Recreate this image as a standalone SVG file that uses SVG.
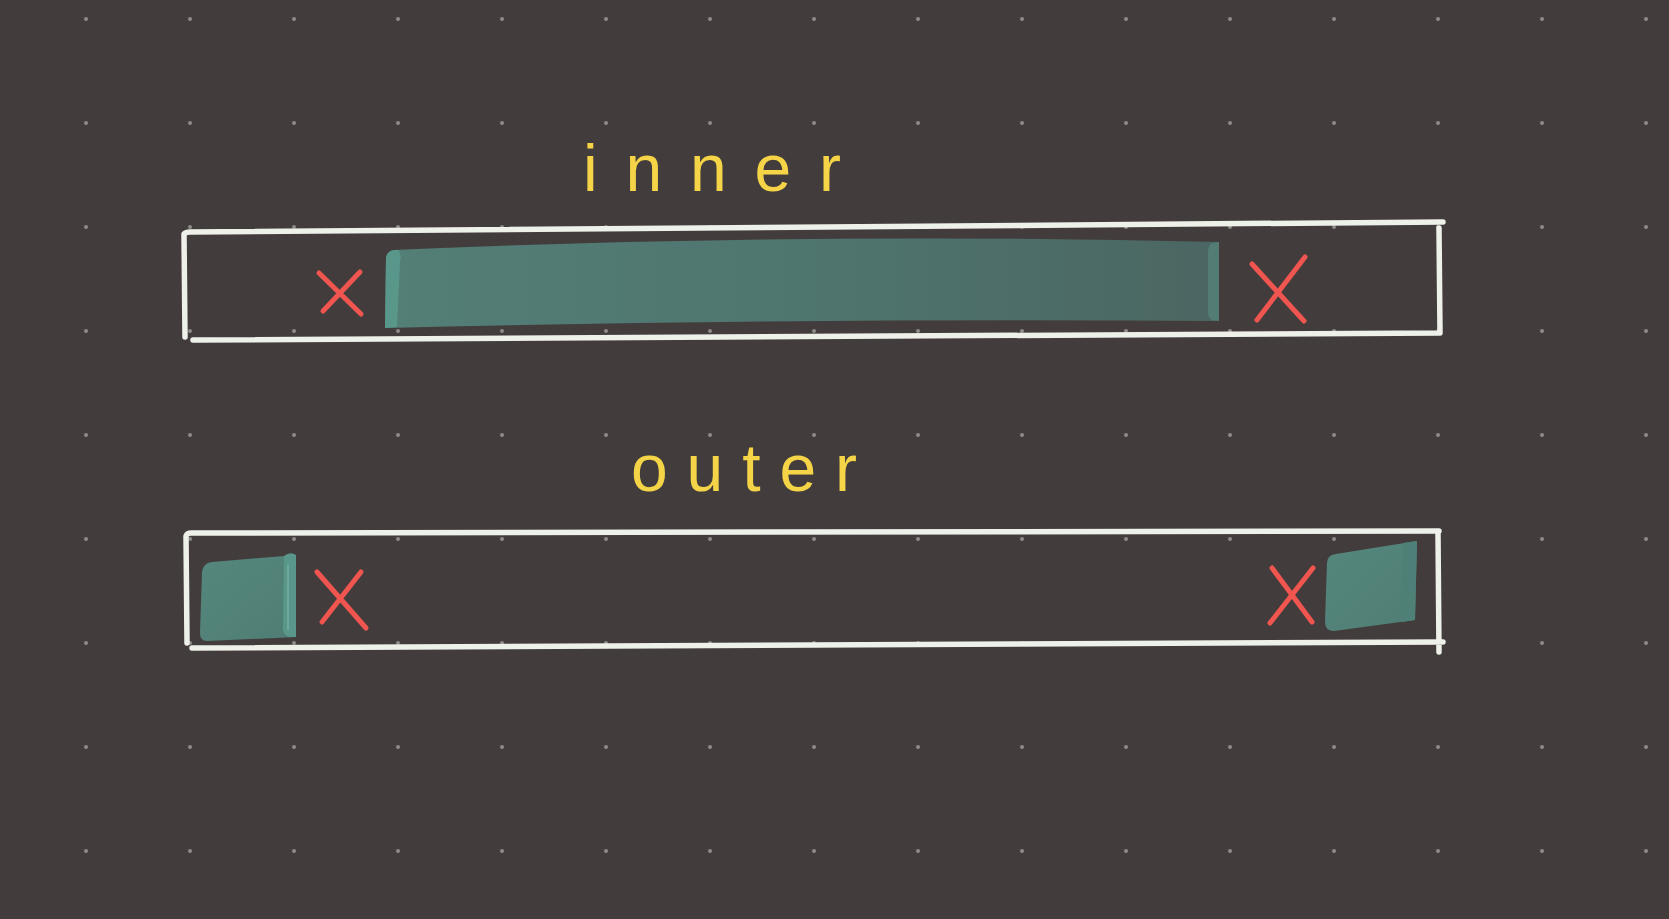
<svg xmlns="http://www.w3.org/2000/svg" width="1669" height="919" viewBox="0 0 1669 919">
  <defs>
    <pattern id="dots" patternUnits="userSpaceOnUse" width="104" height="104">
      <circle cx="86" cy="19" r="2" fill="#8e8a88"/>
    </pattern>
    <linearGradient id="tealInner" x1="385" y1="0" x2="1219" y2="0" gradientUnits="userSpaceOnUse">
      <stop offset="0" stop-color="#537f77"/>
      <stop offset="0.5" stop-color="#4f756f"/>
      <stop offset="1" stop-color="#4b6662"/>
    </linearGradient>
    <linearGradient id="tealOuter" x1="0" y1="0" x2="1" y2="1">
      <stop offset="0" stop-color="#55877d"/>
      <stop offset="1" stop-color="#4f7d74"/>
    </linearGradient>
    <style>
      .frame { fill: none; stroke: #eef0ea; stroke-width: 5.5; stroke-linecap: round; stroke-linejoin: round; }
      .cross { fill: none; stroke: #f0554f; stroke-width: 5; stroke-linecap: round; }
      .label { font-family: "Liberation Sans", "DejaVu Sans", sans-serif; fill: #f5d547; font-size: 66px; }
      .curl-light { fill: #5a978b; }
    </style>
  </defs>

  <rect width="1669" height="919" fill="#423d3c"/>
  <rect width="1669" height="919" fill="url(#dots)"/>

  <g id="inner-label">
    <text class="label" x="583" y="191" textLength="258" lengthAdjust="spacing">inner</text>
  </g>

  <g id="inner-box">
    <path class="frame" d="M185,337 L184,234 Q186,232 190,232 L1443,222"/>
    <path class="frame" d="M1439,228 L1440,333 L193,340"/>
    <path d="M394,250 Q800,232 1219,242 L1219,321 Q800,318 385,328 L386,258 Q387,251 394,250 Z" fill="url(#tealInner)"/>
    <path class="curl-light" d="M394,250 L398,250 Q402,255 400,262 L397,327 L385,328 L386,258 Q387,251 394,250 Z"/>
    <path d="M1212,243 L1219,242 L1219,321 L1212,320 Q1208,318 1208,312 L1208,252 Q1208,245 1212,243 Z" fill="#527c74"/>
    <path class="cross" d="M319,273 L361,314 M360,272 L323,311"/>
    <path class="cross" d="M1252,264 L1304,321 M1305,257 L1257,320"/>
  </g>

  <g id="outer-label">
    <text class="label" x="631" y="491" textLength="226" lengthAdjust="spacing">outer</text>
  </g>

  <g id="outer-box">
    <path class="frame" d="M187,643 L186,536 Q187,533 191,533 L1439,531"/>
    <path class="frame" d="M1438,533 L1439,652 M1443,642 L192,648"/>
    <path d="M212,562 L296,555 L296,637 L207,641 Q200,641 200,633 L202,572 Q203,563 212,562 Z" fill="url(#tealOuter)"/>
    <path class="curl-light" d="M284,556 Q290,551 296,555 L296,637 L290,637 Q283,636 283,628 Z"/>
    <path d="M288,565 L288,630" stroke="#7fb3a8" stroke-width="1.2" fill="none"/>
    <path d="M1336,554 L1417,541 L1415,620 L1334,631 Q1325,631 1325,622 L1327,563 Q1327,555 1336,554 Z" fill="url(#tealOuter)"/>
    <path d="M1403,543 L1417,541 L1415,620 L1402,622 Z" fill="#4f8077"/>
    <path class="cross" d="M317,572 L366,628 M361,572 L322,622"/>
    <path class="cross" d="M1272,568 L1312,622 M1313,568 L1270,623"/>
  </g>
</svg>
